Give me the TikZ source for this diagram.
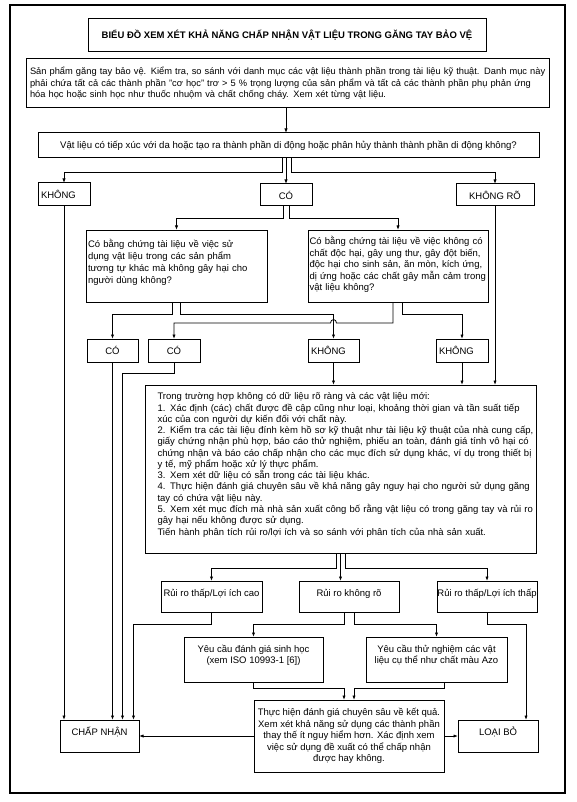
\documentclass[tikz,border=0pt]{standalone}
\usepackage{fontspec}
\setmainfont{Liberation Sans}
\usetikzlibrary{arrows.meta,calc}
\newcommand\fs{\fontsize{9.5}{11.5}\selectfont}
\newcommand\J[1]{\leavevmode\hbox to \hsize{#1}}
\tikzset{
  box/.style={draw, line width=1pt, inner sep=0pt, outer sep=0pt, font=\fs, align=center},
  raised/.style={text height=7pt, text depth=8pt},
  txt/.style={inner sep=0pt, outer sep=0pt, font=\fs, align=left},
  arr/.style={line width=0.8pt, -{Latex[length=4.5pt,width=3.2pt]}},
}
\begin{document}
\begin{tikzpicture}[x=1pt,y=-1pt]
\useasboundingbox (0,0) rectangle (576,802);
\fill[white] (0,0) rectangle (576,802);
\draw[line width=1.2pt] (10,5) rectangle (565,793);

% levels
\coordinate (ya) at (0,172);
\coordinate (yb) at (0,218);
\coordinate (yc) at (0,314);
\coordinate (yd) at (0,323);
\coordinate (ye) at (0,373);
\coordinate (yf) at (0,568);
\coordinate (yg) at (0,624);
\coordinate (yh) at (0,688);

% nodes
\node[box, minimum width=398pt, minimum height=33pt, font=\fs\bfseries] (title) at (287,35.5)
  {BIỂU ĐỒ XEM XÉT KHẢ NĂNG CHẤP NHẬN VẬT LIỆU TRONG GĂNG TAY BẢO VỆ};

\node[box, minimum width=523pt, minimum height=49pt, text width=516pt, align=left,
      font=\fontsize{9.3}{11.5}\selectfont] (intro) at (288,83.5)
  {\J{Sản phẩm găng tay bảo vệ. Kiểm tra, so sánh với danh mục các vật liệu thành phần trong tài liệu kỹ thuật. Danh mục này}\\
   \J{phải chứa tất cả các thành phần "cơ học" trơ > 5 \% trọng lượng của sản phẩm và tất cả các thành phần phụ phản ứng}\\
   hóa học hoặc sinh học như thuốc nhuộm và chất chống cháy. Xem xét từng vật liệu.};

\node[box, minimum width=501pt, minimum height=25pt, font=\fontsize{9.6}{11.5}\selectfont] (question) at (288.5,145.5)
  {Vật liệu có tiếp xúc với da hoặc tạo ra thành phần di động hoặc phân hủy thành thành phần di động không?};

\node[box, minimum width=52pt, minimum height=23pt, text width=46pt, inner xsep=3pt, align=left] (khong) at (64,194.5) {KHÔNG};
\node[box, minimum width=52pt, minimum height=22pt] (co) at (286,195) {CÓ};
\node[box, minimum width=78pt, minimum height=22pt] (khongro) at (495,195) {KHÔNG RÕ};

\node[box, minimum width=181pt, minimum height=72pt] (q1) at (176.5,266) {};
\node[txt, text width=177pt, anchor=north] (q1t) at ($(q1.north)+(0,9.5)$)
  {\fontsize{9.5}{11.9}\selectfont
   \J{Có bằng chứng tài liệu về việc sử}\\
   \J{dụng vật liệu trong các sản phẩm}\\
   \J{tương tự khác mà không gây hại cho}\\
   người dùng không?};

\node[box, minimum width=180pt, minimum height=72pt] (q2) at (398,266) {};
\node[txt, text width=177pt, anchor=north] (q2t) at ($(q2.north)+(0,6.5)$)
  {\J{Có bằng chứng tài liệu về việc không có}\\
   \J{chất độc hại, gây ung thư, gây đột biến,}\\
   \J{độc hại cho sinh sản, ăn mòn, kích ứng,}\\
   \J{dị ứng hoặc các chất gây mẫn cảm trong}\\
   vật liệu không?};

\node[box, minimum width=51pt, minimum height=23pt] (co1) at (112.5,350.5) {CÓ};
\node[box, minimum width=52pt, minimum height=23pt] (co2) at (174,350.5) {CÓ};
\node[box, minimum width=51pt, minimum height=23pt, text width=45pt, inner xsep=3pt, align=left] (kh1) at (333.5,350.5) {KHÔNG};
\node[box, minimum width=52pt, minimum height=23pt, text width=46pt, inner xsep=3pt, align=left] (kh2) at (462,350.5) {KHÔNG};

\node[box, minimum width=391pt, minimum height=168pt] (big) at (340.5,469) {};
\node[txt, text width=370pt, anchor=north] (bigt) at ($(big.north)+(2,8)$)
  {\fontsize{9.5}{11.25}\selectfont
   Trong trường hợp không có dữ liệu rõ ràng và các vật liệu mới:\\
   \J{1. Xác định (các) chất được đề cập cũng như loại, khoảng thời gian và tần suất tiếp}\\
   xúc của con người dự kiến đối với chất này.\\
   \J{2. Kiểm tra các tài liệu đính kèm hồ sơ kỹ thuật như tài liệu kỹ thuật của nhà cung cấp,}\\
   \J{giấy chứng nhận phù hợp, báo cáo thử nghiệm, phiếu an toàn, đánh giá tính vô hại có}\\
   \J{chứng nhận và báo cáo chấp nhận cho các mục đích sử dụng khác, ví dụ trong thiết bị}\\
   y tế, mỹ phẩm hoặc xử lý thực phẩm.\\
   3. Xem xét dữ liệu có sẵn trong các tài liệu khác.\\
   \J{4. Thực hiện đánh giá chuyên sâu về khả năng gây nguy hại cho người sử dụng găng}\\
   tay có chứa vật liệu này.\\
   \J{5. Xem xét mục đích mà nhà sản xuất công bố rằng vật liệu có trong găng tay và rủi ro}\\
   gây hại nếu không được sử dụng.\\
   Tiến hành phân tích rủi ro/lợi ích và so sánh với phân tích của nhà sản xuất.};

\node[box, raised, minimum width=101pt, minimum height=31pt] (rr1) at (211.5,596.5) {Rủi ro thấp/Lợi ích cao};
\node[box, raised, minimum width=100pt, minimum height=31pt] (rr2) at (349,596.5) {Rủi ro không rõ};
\node[box, raised, minimum width=100pt, minimum height=31pt] (rr3) at (487,596.5) {Rủi ro thấp/Lợi ích thấp};

\node[box, minimum width=139pt, minimum height=45pt] (yc1) at (253.5,659.5) {};
\node[txt, align=center, font=\fontsize{9.5}{10.8}\selectfont] (yc1t) at ($(yc1)+(0,-4.5)$)
  {Yêu cầu đánh giá sinh học\\(xem ISO 10993-1 [6])};
\node[box, minimum width=141pt, minimum height=45pt] (yc2) at (436.5,659.5) {};
\node[txt, align=center, font=\fontsize{9.5}{10.8}\selectfont] (yc2t) at ($(yc2)+(0,-4.5)$)
  {Yêu cầu thử nghiệm các vật\\liệu cụ thể như chất màu Azo};

\node[box, minimum width=190pt, minimum height=72pt] (final) at (349,736)
  {\fontsize{9.5}{11.3}\selectfont Thực hiện đánh giá chuyên sâu về kết quả.\\
   Xem xét khả năng sử dụng các thành phần\\
   thay thế ít nguy hiểm hơn. Xác định xem\\
   việc sử dụng đề xuất có thể chấp nhận\\
   được hay không.};

\node[box, raised, minimum width=79pt, minimum height=32pt] (chap) at (99.5,736) {CHẤP NHẬN};
\node[box, raised, minimum width=80pt, minimum height=32pt] (loai) at (498,736) {LOẠI BỎ};

% connectors
\draw[arr] (co.north|-intro.south) -- (co.north|-question.north);
\draw[arr] ($(co.north|-question.south)+(-4,0)$) |- (khong.north|-ya) -- (khong.north);
\draw[arr] (co.north|-question.south) -- (co.north);
\draw[arr] ($(co.north|-question.south)+(5,0)$) |- (khongro.north|-ya) -- (khongro.north);

\draw[arr] ($(co.south)+(-3,0)$) |- (q1.north|-yb) -- (q1.north);
\draw[arr] ($(co.south)+(3,0)$) |- (q2.north|-yb) -- (q2.north);

\draw[arr] ($(q1.south)+(-4.5,0)$) |- (co1.north|-yc) -- (co1.north);
\draw[arr] ($(q1.south)+(3.5,0)$) |- (kh1.north|-yc) -- (kh1.north);
\draw[arr] ($(q2.south)+(-5,0)$) |- ($(kh1.north|-yd)+(3,0)$)
   .. controls +(0,-4.5) and +(0,-4.5) .. ($(kh1.north|-yd)+(-3,0)$)
   -- (co2.north|-yd) -- (co2.north);
\draw[arr] ($(q2.south)+(4,0)$) |- (kh2.north|-yc) -- (kh2.north);

\draw[arr] (khong.south) -- (khong.south|-chap.north);
\draw[arr] (co1.south) -- (co1.south|-chap.north);
\draw[arr] (co2.south) |- ($(chap.north|-ye)+(23,0)$) -- ($(chap.north)+(23,0)$);
\draw[arr] (rr1.south) |- ($(chap.north|-yg)+(34,0)$) -- ($(chap.north)+(34,0)$);

\draw[arr] (kh1.south) -- (kh1.south|-big.north);
\draw[arr] (kh2.south) -- (kh2.south|-big.north);
\draw[arr] (khongro.south) -- (khongro.south|-big.north);

\draw[arr] ($(big.south)+(-4.5,0)$) |- (rr1.north|-yf) -- (rr1.north);
\draw[arr] (big.south) -- (big.south|-rr2.north);
\draw[arr] ($(big.south)+(4.5,0)$) |- (rr3.north|-yf) -- (rr3.north);

\draw[arr] ($(rr2.south)+(-5,0)$) |- (yc1.north|-yg) -- (yc1.north);
\draw[arr] ($(rr2.south)+(5,0)$) |- (yc2.north|-yg) -- (yc2.north);

\draw[arr] (yc1.south) |- ($(final.north|-yh)+(-5,0)$) -- ($(final.north)+(-5,0)$);
\draw[arr] ($(yc2.south)+(7.5,0)$) |- ($(final.north|-yh)+(5,0)$) -- ($(final.north)+(5,0)$);

\draw[arr] (rr3.south) |- ($(loai.north|-yg)+(28,0)$) -- ($(loai.north)+(28,0)$);

\draw[arr] (final.west) -- (chap.east);
\draw[arr] (final.east) -- (loai.west);
\end{tikzpicture}
\end{document}
